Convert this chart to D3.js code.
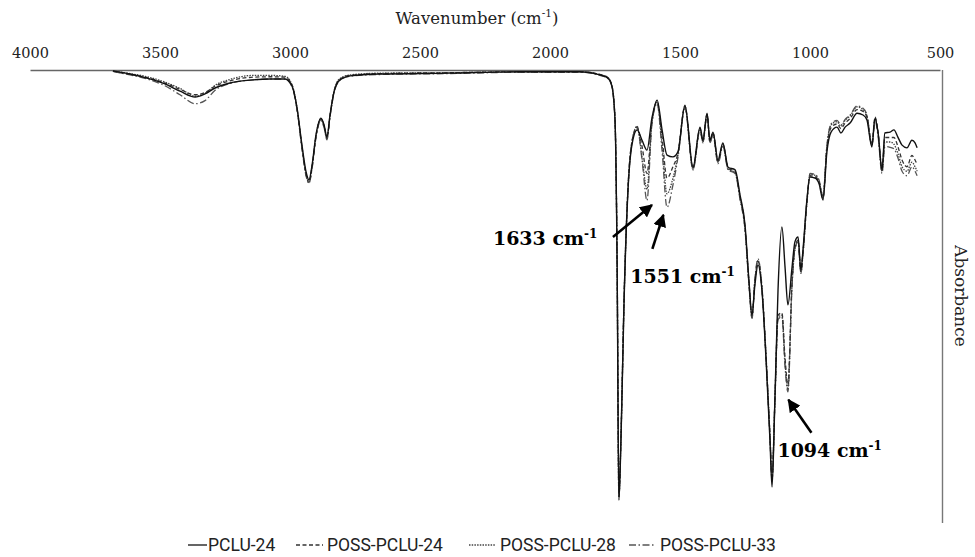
<!DOCTYPE html>
<html>
<head>
<meta charset="utf-8">
<script src="https://cdn.jsdelivr.net/npm/d3@7"></script>
<style>
  body { margin: 0; background: #fff; }
  svg { display: block; }
</style>
</head>
<body>
<svg></svg>
<script>
const svg = d3.select("svg");

const sizes = {
  width: 975,
  height: 557,
  left: 30,
  right: 940,
  top: 70,
  bottom: 520
};

svg.attr("width", sizes.width).attr("height", sizes.height);

// wavenumbers (cm-1) shared by all four spectra
const wavenumbers = [
  3681, 3615, 3550, 3481, 3423, 3365, 3327, 3288, 3231, 3142,
  3077, 3019, 2992, 2973, 2954, 2938, 2927, 2915, 2900, 2881,
  2869, 2858, 2846, 2831, 2808, 2769, 2654, 2385, 2115, 1885,
  1808, 1777, 1762, 1750, 1742, 1735, 1727, 1715, 1700, 1685,
  1665, 1646, 1627, 1608, 1588, 1569, 1550, 1527, 1508, 1481,
  1450, 1423, 1412, 1396, 1385, 1373, 1354, 1335, 1315, 1288,
  1269, 1250, 1235, 1223, 1212, 1200, 1185, 1169, 1154, 1146,
  1135, 1123, 1108, 1096, 1085, 1069, 1058, 1046, 1035, 1027,
  1012, 1000, 981, 965, 950, 935, 919, 896, 881, 865,
  846, 819, 796, 781, 762, 750, 738, 723, 712, 692,
  677, 662, 646, 627, 608, 596, 588
];

const pclu24 = [
  .002, .009, .018, .031, .047, .060, .053, .040, .029, .022,
  .020, .020, .036, .084, .167, .227, .244, .211, .144, .107,
  .122, .149, .100, .049, .022, .013, .009, .007, .004, .004,
  .011, .018, .036, .111, .422, .956, .822, .511, .267, .167,
  .133, .156, .178, .107, .067, .133, .189, .193, .182, .078,
  .216, .127, .156, .096, .156, .138, .200, .162, .216, .222,
  .278, .344, .467, .544, .478, .433, .489, .644, .822, .927,
  .733, .489, .349, .438, .522, .438, .382, .371, .444, .400,
  .289, .238, .240, .253, .289, .182, .138, .127, .140, .127,
  .118, .096, .100, .111, .171, .107, .140, .222, .140, .138,
  .133, .149, .167, .173, .156, .162, .173
];

const possPclu24 = [
  .003, .010, .017, .029, .043, .055, .050, .036, .024, .016,
  .015, .016, .034, .086, .172, .233, .250, .216, .148, .110,
  .125, .152, .102, .050, .020, .012, .008, .006, .004, .004,
  .010, .017, .034, .108, .415, .948, .815, .505, .262, .160,
  .128, .170, .230, .115, .070, .150, .240, .215, .185, .080,
  .218, .130, .158, .098, .158, .140, .203, .165, .218, .226,
  .282, .350, .470, .548, .470, .425, .485, .640, .815, .910,
  .735, .545, .540, .640, .700, .470, .395, .378, .448, .405,
  .292, .235, .237, .250, .285, .175, .128, .120, .130, .118,
  .108, .088, .092, .105, .165, .105, .138, .220, .150, .150,
  .150, .170, .200, .215, .190, .200, .210
];

const possPclu28 = [
  .002, .008, .015, .027, .041, .058, .052, .034, .021, .012,
  .012, .014, .033, .085, .170, .232, .248, .214, .146, .108,
  .124, .150, .101, .048, .019, .011, .007, .006, .004, .004,
  .010, .017, .035, .110, .420, .950, .818, .508, .265, .162,
  .125, .195, .265, .118, .072, .165, .275, .240, .190, .082,
  .220, .131, .160, .099, .160, .142, .205, .167, .220, .228,
  .285, .352, .472, .550, .468, .423, .484, .638, .812, .905,
  .735, .550, .545, .650, .710, .475, .398, .380, .450, .408,
  .295, .232, .234, .247, .282, .170, .122, .115, .125, .112,
  .102, .082, .088, .102, .165, .108, .142, .225, .160, .160,
  .165, .185, .215, .225, .205, .215, .225
];

const possPclu33 = [
  .003, .011, .020, .035, .055, .075, .068, .045, .030, .022,
  .020, .020, .038, .088, .175, .236, .252, .218, .150, .112,
  .128, .155, .104, .052, .023, .014, .010, .008, .005, .005,
  .012, .019, .037, .112, .418, .945, .812, .502, .260, .160,
  .126, .200, .290, .120, .075, .180, .305, .255, .195, .085,
  .222, .133, .162, .100, .162, .145, .208, .170, .222, .230,
  .288, .355, .475, .552, .465, .420, .480, .635, .810, .900,
  .735, .555, .548, .660, .715, .480, .400, .382, .452, .410,
  .298, .230, .232, .245, .280, .168, .120, .112, .122, .110,
  .100, .080, .085, .100, .168, .112, .148, .230, .170, .172,
  .175, .195, .225, .235, .215, .225, .235
];

const seriesNames = ["PCLU-24", "POSS-PCLU-24", "POSS-PCLU-28", "POSS-PCLU-33"];
const seriesValues = [pclu24, possPclu24, possPclu28, possPclu33];
const xTicks = [4000, 3500, 3000, 2500, 2000, 1500, 1000, 500];

// peak labels: wavenumber text, arrow tip (wavenumber, absorbance), offsets from tip
const peakLabels = [
  { label: "1633", wn: 1608, a: 0.300, tail: [-39, 32], text: [-159, 40] },
  { label: "1551", wn: 1564, a: 0.322, tail: [-11, 34], text: [-33, 68] },
  { label: "1094", wn: 1083, a: 0.733, tail: [23, 33], text: [-11, 57] }
];

const styles = [
  { color: "#111", dash: null },
  { color: "#333", dash: "4,2.5" },
  { color: "#444", dash: "1.5,1.2" },
  { color: "#555", dash: "7,2.5,1.5,2.5" }
];

const x = d3.scaleLinear().domain([4000, 500]).range([sizes.left, sizes.right]);
const y = d3.scaleLinear().domain([0, 1]).range([sizes.top, sizes.bottom]);

// top axis
const xAxis = d3.axisTop(x).tickValues(xTicks).tickSize(0).tickPadding(12)
  .tickFormat(d3.format("d"));

const axisG = svg.append("g")
  .attr("transform", `translate(0,${sizes.top})`)
  .call(xAxis);

axisG.select(".domain")
  .attr("stroke", "#666")
  .attr("stroke-width", 1.6);

axisG.selectAll("text")
  .attr("font-family", "DejaVu Serif")
  .attr("font-size", 14.5)
  .attr("fill", "#222");

svg.append("line")
  .attr("x1", sizes.right + 2.5).attr("x2", sizes.right + 2.5)
  .attr("y1", sizes.top).attr("y2", sizes.bottom + 3)
  .attr("stroke", "#777")
  .attr("stroke-width", 1.4);

const title = svg.append("text")
  .attr("x", 477)
  .attr("y", 24)
  .attr("text-anchor", "middle")
  .attr("font-family", "DejaVu Serif")
  .attr("font-size", 16.5)
  .attr("fill", "#222");
title.append("tspan").text("Wavenumber (cm");
title.append("tspan").text("-1").attr("font-size", 10.5).attr("dy", -7);
title.append("tspan").text(")").attr("dy", 7);

svg.append("text")
  .attr("transform", "translate(955,296) rotate(90)")
  .attr("text-anchor", "middle")
  .attr("font-family", "DejaVu Serif")
  .attr("font-size", 17)
  .attr("fill", "#222")
  .text("Absorbance");

// spectra
const lineGen = d3.line()
  .x((d, i) => x(wavenumbers[i]))
  .y(d => y(d))
  .curve(d3.curveMonotoneX);

const order = [3, 2, 1, 0];
order.forEach(k => {
  svg.append("path")
    .datum(seriesValues[k])
    .attr("d", lineGen)
    .attr("fill", "none")
    .attr("stroke", styles[k].color)
    .attr("stroke-width", k === 0 ? 1.4 : 1.3)
    .attr("stroke-dasharray", styles[k].dash);
});

// arrows and peak labels
svg.append("defs").append("marker")
  .attr("id", "head")
  .attr("viewBox", "0 0 10 10")
  .attr("refX", 9)
  .attr("refY", 5)
  .attr("markerWidth", 5)
  .attr("markerHeight", 5)
  .attr("orient", "auto")
  .append("path")
  .attr("d", "M0,0 L10,5 L0,10 z")
  .attr("fill", "#000");

peakLabels.forEach(p => {
  const tx = x(p.wn), ty = y(p.a);
  svg.append("line")
    .attr("x1", tx + p.tail[0]).attr("y1", ty + p.tail[1])
    .attr("x2", tx).attr("y2", ty)
    .attr("stroke", "#000")
    .attr("stroke-width", 2.6)
    .attr("marker-end", "url(#head)");

  const t = svg.append("text")
    .attr("x", tx + p.text[0])
    .attr("y", ty + p.text[1])
    .attr("font-family", "DejaVu Serif")
    .attr("font-weight", "bold")
    .attr("font-size", 19)
    .attr("fill", "#000");
  t.append("tspan").text(p.label + " cm");
  t.append("tspan").text("-1").attr("font-size", 12).attr("dy", -7);
});

// legend
const legendX = [188, 296, 469, 629];
const legend = svg.append("g").attr("transform", "translate(0,545)");
seriesNames.forEach((name, k) => {
  legend.append("line")
    .attr("x1", legendX[k]).attr("x2", legendX[k] + (k === 0 ? 19 : 27))
    .attr("y1", 0).attr("y2", 0)
    .attr("stroke", styles[k].color)
    .attr("stroke-width", 1.3)
    .attr("stroke-dasharray", styles[k].dash);
  legend.append("text")
    .attr("x", legendX[k] + (k === 0 ? 20 : 31))
    .attr("y", 6)
    .attr("font-family", "Liberation Sans Narrow, Roboto, sans-serif")
    .attr("font-size", 17.5)
    .attr("fill", "#222")
    .text(name);
});
</script>
</body>
</html>
